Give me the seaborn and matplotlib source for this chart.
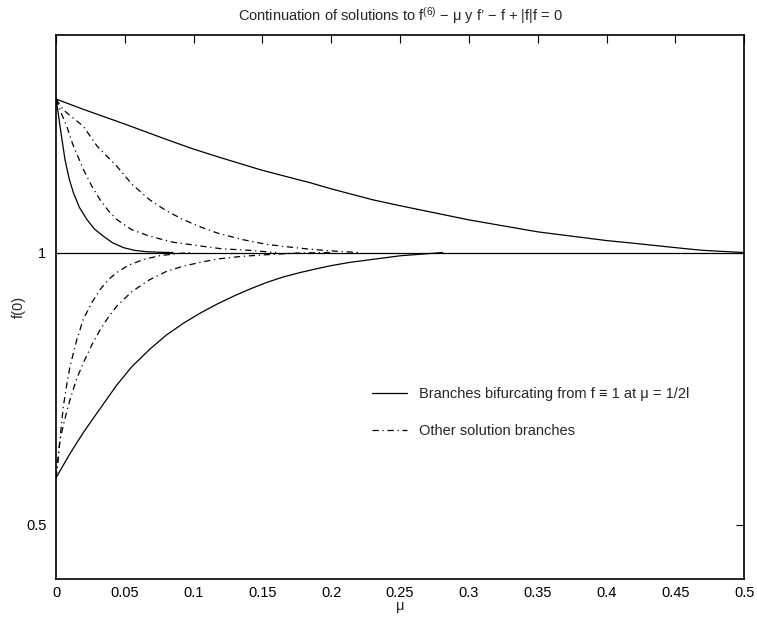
import numpy as np
import pandas as pd
import matplotlib
matplotlib.use("Agg")
import matplotlib.pyplot as plt
from matplotlib.lines import Line2D
import seaborn as sns

# ---- data ----
mu_top_long = [0, 0.02, 0.05, 0.08, 0.1, 0.12, 0.15, 0.185, 0.2, 0.23, 0.25, 0.3, 0.35, 0.4, 0.42, 0.45, 0.47, 0.5]
f_top_long = [1.282, 1.263, 1.236, 1.208, 1.190, 1.174, 1.151, 1.128, 1.117, 1.097, 1.086, 1.060, 1.038, 1.022, 1.017, 1.009, 1.004, 1.0]

mu_top_steep = [0, 0.0015, 0.0029, 0.0065, 0.0095, 0.0126, 0.017, 0.0223, 0.028, 0.0344, 0.041, 0.049, 0.057, 0.066, 0.075, 0.085]
f_top_steep = [1.282, 1.258, 1.232, 1.171, 1.136, 1.110, 1.083, 1.061, 1.043, 1.030, 1.018, 1.009, 1.004, 1.0015, 1.0005, 1.0]

mu_top_dd1 = [0, 0.004, 0.0078, 0.012, 0.0198, 0.026, 0.032, 0.038, 0.044, 0.055, 0.068, 0.085, 0.105, 0.12, 0.141, 0.16]
f_top_dd1 = [1.282, 1.255, 1.232, 1.200, 1.153, 1.122, 1.097, 1.077, 1.061, 1.042, 1.030, 1.019, 1.012, 1.007, 1.004, 1.0]

mu_top_dd2 = [0, 0.0053, 0.0198, 0.03, 0.044, 0.055, 0.068, 0.08, 0.092, 0.105, 0.117, 0.135, 0.153, 0.17, 0.185, 0.2, 0.22]
f_top_dd2 = [1.282, 1.262, 1.232, 1.195, 1.159, 1.126, 1.097, 1.077, 1.061, 1.047, 1.036, 1.024, 1.015, 1.010, 1.006, 1.003, 1.0]

mu_bot_solid = [0, 0.01, 0.0198, 0.03, 0.044, 0.055, 0.068, 0.08, 0.0925, 0.105, 0.1168, 0.13, 0.141, 0.153, 0.165, 0.177, 0.189, 0.2, 0.2137, 0.2258, 0.25, 0.281]
f_bot_solid = [0.586, 0.630, 0.669, 0.706, 0.756, 0.790, 0.822, 0.848, 0.870, 0.889, 0.905, 0.921, 0.933, 0.945, 0.955, 0.963, 0.970, 0.976, 0.982, 0.986, 0.994, 1.0]

mu_bot_dd1 = [0, 0.0015, 0.003, 0.0053, 0.0078, 0.0102, 0.015, 0.0198, 0.026, 0.032, 0.038, 0.044, 0.053, 0.0634, 0.075, 0.0877, 0.1]
f_bot_dd1 = [0.586, 0.620, 0.660, 0.717, 0.757, 0.791, 0.839, 0.877, 0.908, 0.932, 0.950, 0.963, 0.977, 0.987, 0.994, 0.998, 1.0]

mu_bot_dd2 = [0, 0.0029, 0.0065, 0.0102, 0.015, 0.0198, 0.026, 0.032, 0.038, 0.044, 0.055, 0.068, 0.08, 0.0925, 0.105, 0.1168, 0.135, 0.153, 0.175, 0.2]
f_bot_dd2 = [0.586, 0.656, 0.695, 0.730, 0.768, 0.797, 0.830, 0.858, 0.881, 0.901, 0.928, 0.950, 0.965, 0.975, 0.982, 0.988, 0.993, 0.996, 0.999, 1.0]

mu_trivial = [0, 0.5]
f_trivial = [1.0, 1.0]

x_ticks = [0, 0.05, 0.1, 0.15, 0.2, 0.25, 0.3, 0.35, 0.4, 0.45, 0.5]
x_tick_labels = ["0", "0.05", "0.1", "0.15", "0.2", "0.25", "0.3", "0.35", "0.4", "0.45", "0.5"]
y_ticks = [0.5, 1]
y_tick_labels = ["0.5", "1"]

legend_labels = ["Branches bifurcating from f \u2261 1 at \u03bc = 1/2l", "Other solution branches"]
title = "Continuation of solutions to f$^{(6)}$ \u2212 \u03bc y f\u2019 \u2212 f + |f|f = 0"

# ---- plotting ----
sns.set_style("white")
plt.rcParams["font.family"] = ["Liberation Sans", "DejaVu Sans"]
plt.rcParams["mathtext.default"] = "regular"
plt.rcParams["mathtext.fontset"] = "custom"
plt.rcParams["mathtext.rm"] = "Liberation Sans"

fig = plt.figure(figsize=(7.57, 6.22), dpi=100)
ax = fig.add_axes([0.074, 0.069, 0.909, 0.875])

dashdot = (0, (5, 3, 1, 3))
lw = 0.9

solid_sets = [(mu_trivial, f_trivial), (mu_top_long, f_top_long), (mu_top_steep, f_top_steep), (mu_bot_solid, f_bot_solid)]
dd_sets = [(mu_top_dd1, f_top_dd1), (mu_top_dd2, f_top_dd2), (mu_bot_dd1, f_bot_dd1), (mu_bot_dd2, f_bot_dd2)]

for m, f in solid_sets:
    df = pd.DataFrame({"mu": m, "f": f})
    sns.lineplot(data=df, x="mu", y="f", ax=ax, color="black", lw=lw, sort=False, estimator=None)
for m, f in dd_sets:
    df = pd.DataFrame({"mu": m, "f": f})
    sns.lineplot(data=df, x="mu", y="f", ax=ax, color="black", lw=lw, sort=False, estimator=None, linestyle=dashdot)

ax.set_xlim(0, 0.5)
ax.set_ylim(0.4, 1.4)
ax.set_xticks(x_ticks)
ax.set_xticklabels(x_tick_labels)
ax.set_yticks(y_ticks)
ax.set_yticklabels(y_tick_labels)
ax.tick_params(direction="in", length=6, width=0.8, top=True, right=True,
               labelsize=10.5, colors="black")
ax.tick_params(axis="x", pad=5)
ax.tick_params(axis="y", pad=7)
for s in ax.spines.values():
    s.set_visible(True)
    s.set_color("black")
    s.set_linewidth(1.2)

ax.set_xlabel("\u03bc", fontsize=10.5, labelpad=-1)
ax.set_ylabel("f(0)", fontsize=10.5, labelpad=0)
ax.set_title(title, fontsize=10.5, pad=10)

handles = [Line2D([0], [0], color="black", lw=lw),
           Line2D([0], [0], color="black", lw=lw, linestyle=dashdot)]
ax.legend(handles, legend_labels, frameon=False, fontsize=10.5,
          loc="center left", bbox_to_anchor=(0.44, 0.306), handlelength=2.4,
          handletextpad=0.8, labelspacing=1.57)

fig.savefig("out.png", dpi=100, facecolor="white")
